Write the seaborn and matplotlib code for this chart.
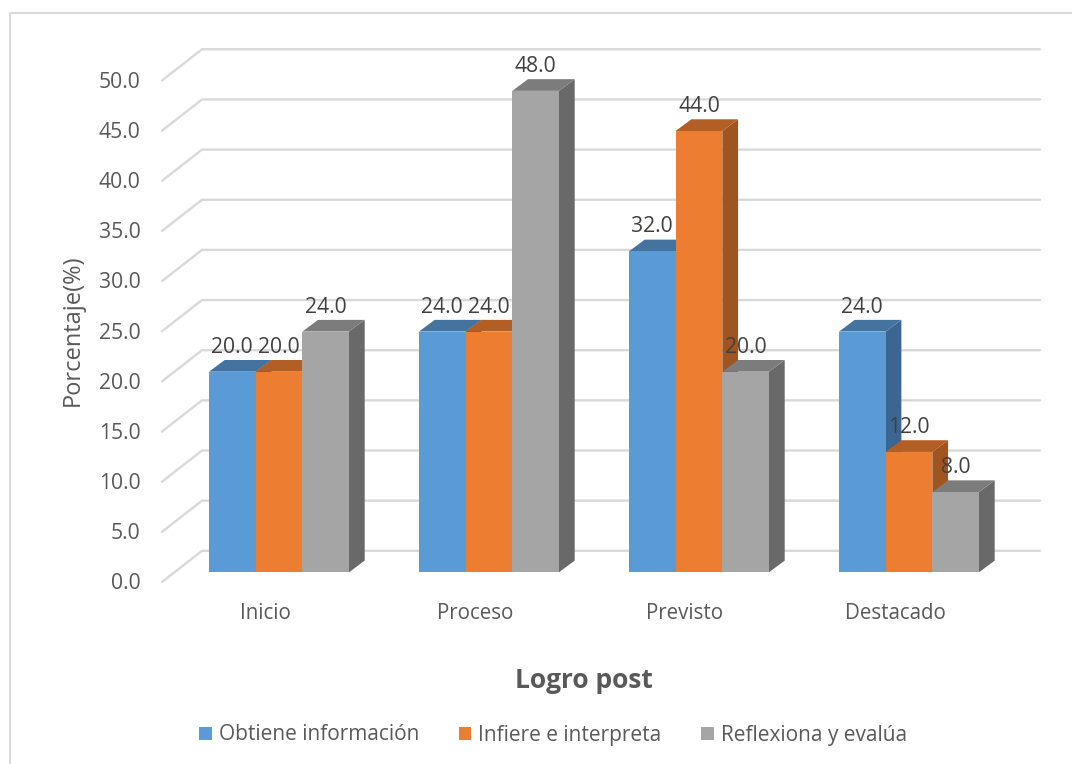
import pandas as pd
import matplotlib.pyplot as plt
import matplotlib.transforms as mtransforms
from matplotlib.lines import Line2D
from matplotlib.patches import Polygon
import seaborn as sns

# Data
categories = ["Inicio", "Proceso", "Previsto", "Destacado"]
series_names = ["Obtiene información", "Infiere e interpreta", "Reflexiona y evalúa"]
obtiene = [20.0, 24.0, 32.0, 24.0]
infiere = [20.0, 24.0, 44.0, 12.0]
reflexiona = [24.0, 48.0, 20.0, 8.0]
y_ticks = [0, 5, 10, 15, 20, 25, 30, 35, 40, 45, 50]

FRONT_COLORS = ["#5B9BD5", "#ED7D31", "#A5A5A5"]
TOP_COLORS = ["#44739F", "#B25E25", "#7C7C7C"]
SIDE_COLORS = ["#3A6691", "#A0541F", "#696969"]
GRID_COLOR = "#D9D9D9"
TEXT_COLOR = "#595959"
LABEL_COLOR = "#404040"

# pixels per data unit, figure is 1072x764 at dpi 100
PX_X = 210.0
PX_Y = 10.03
DEPTH_X = 15.7 / PX_X
DEPTH_Y = 11.7 / PX_Y

sns.set_theme(style="white")
plt.rcParams["font.family"] = ["Open Sans", "DejaVu Sans"]

df = pd.DataFrame({
    "Logro": categories * 3,
    "Serie": [s for s in series_names for _ in categories],
    "Porcentaje": obtiene + infiere + reflexiona,
})

fig = plt.figure(figsize=(10.72, 7.64), dpi=100)
ax = fig.add_axes([174 / 1072, (764 - 572.3) / 764, 840 / 1072, 501.5 / 764])

sns.barplot(data=df, x="Logro", y="Porcentaje", hue="Serie", hue_order=series_names,
            palette=FRONT_COLORS, width=2 / 3, gap=0, saturation=1, errorbar=None,
            linewidth=0, ax=ax)
ax.set_xlim(-0.5, 3.5)
ax.set_ylim(0, 50)
sns.despine(ax=ax, left=True, bottom=True)

# Back wall and side wall gridlines
for t in y_ticks:
    xs = [-0.5 - 12 / PX_X, -0.5 + 28 / PX_X, 3.5 + 26 / PX_X]
    ys = [t - 9.7 / PX_Y, t + 21.5 / PX_Y, t + 21.5 / PX_Y]
    ax.plot(xs, ys, color=GRID_COLOR, lw=1.7, clip_on=False, zorder=1,
            solid_joinstyle="miter")

# Side and top faces for the 3D look
for i, container in enumerate(ax.containers):
    for bar in container:
        x0 = bar.get_x()
        x1 = x0 + bar.get_width()
        h = bar.get_height()
        top = Polygon([(x0, h), (x1, h), (x1 + DEPTH_X, h + DEPTH_Y), (x0 + DEPTH_X, h + DEPTH_Y)],
                      facecolor=TOP_COLORS[i], edgecolor="none", clip_on=False, zorder=3 + i)
        side = Polygon([(x1, 0), (x1 + DEPTH_X, DEPTH_Y), (x1 + DEPTH_X, h + DEPTH_Y), (x1, h)],
                       facecolor=SIDE_COLORS[i], edgecolor="none", clip_on=False, zorder=3 + i)
        ax.add_patch(side)
        ax.add_patch(top)
        bar.set_zorder(3.5 + i)
    labels = ax.bar_label(container, fmt="%.1f", padding=10, fontsize=15.2, color=LABEL_COLOR)
    for lab in labels:
        lab.set_zorder(10)

# Ticks sit on the front edge of the floor, not at the bars
ax.set_yticks(y_ticks, labels=[f"{t:.1f}" for t in y_ticks])
ax.tick_params(axis="y", length=0, pad=24, labelsize=15.2, labelcolor=TEXT_COLOR)
ax.tick_params(axis="x", length=0, pad=22, labelsize=14.8, labelcolor=TEXT_COLOR)
y_shift = mtransforms.ScaledTranslation(0, -9 / 100, fig.dpi_scale_trans)
for lab in ax.get_yticklabels():
    lab.set_transform(lab.get_transform() + y_shift)
x_shift = mtransforms.ScaledTranslation(-14 / 100, 0, fig.dpi_scale_trans)
for lab in ax.get_xticklabels():
    lab.set_transform(lab.get_transform() + x_shift)

ax.set_xlabel("")
ax.set_ylabel("")
fig.text(73 / 1072, 1 - 330 / 764, "Porcentaje(%)", rotation=90, ha="center", va="center",
         fontsize=17, color=TEXT_COLOR)
fig.text(584 / 1072, 1 - 680 / 764, "Logro post", ha="center", va="center",
         fontsize=19, fontweight="bold", color=TEXT_COLOR)

handles, leg_labels = ax.get_legend_handles_labels()
ax.legend(handles, leg_labels, loc="center", ncol=3, frameon=False,
          bbox_to_anchor=(553 / 1072, 1 - 735 / 764), bbox_transform=fig.transFigure,
          handlelength=0.6, handleheight=0.6, handletextpad=0.34, columnspacing=1.9,
          prop={"size": 15}, labelcolor=TEXT_COLOR)

# Chart frame
fig.add_artist(Line2D([10 / 1072, 10 / 1072, 1], [0, 1 - 13 / 764, 1 - 13 / 764],
                      color=GRID_COLOR, lw=1.5))

fig.savefig("out.png", dpi=100)
